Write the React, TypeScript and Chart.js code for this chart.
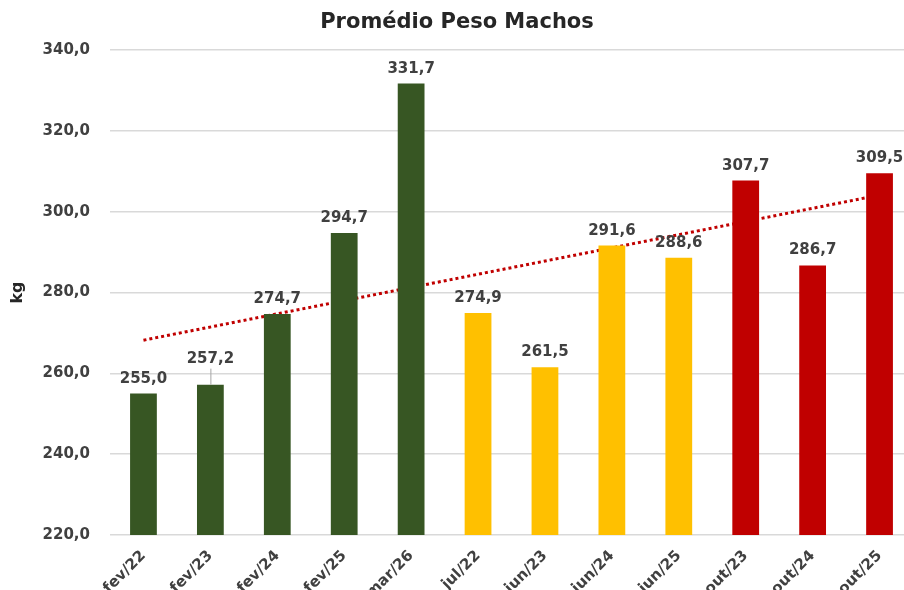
import React, { useEffect, useRef } from "react";
import { Chart, registerables } from "chart.js";

Chart.register(...registerables);

const categories = ["fev/22", "fev/23", "fev/24", "fev/25", "mar/26", "jul/22", "jun/23", "jun/24", "jun/25", "out/23", "out/24", "out/25"];
const weights = [255.0, 257.2, 274.7, 294.7, 331.7, 274.9, 261.5, 291.6, 288.6, 307.7, 286.7, 309.5];
const groups = ["fev", "fev", "fev", "fev", "fev", "jun", "jun", "jun", "jun", "out", "out", "out"];
const groupColors: Record<string, string> = { fev: "#375623", jun: "#FFC000", out: "#C00000" };
// linear trendline end values
const trendStart = 268.2;
const trendEnd = 304.1;
const yTicks = [220, 240, 260, 280, 300, 320, 340];

const TITLE = "Promédio Peso Machos";
const Y_TITLE = "kg";
const LIFTED_LABEL_INDEX = 1;

const fmt = (v: number) => v.toFixed(1).replace(".", ",");

export default function App() {
  const ref = useRef<HTMLCanvasElement | null>(null);

  useEffect(() => {
    document.body.style.margin = "0";
    document.body.style.overflow = "hidden";
    const canvas = ref.current;
    if (!canvas) return;

    const trendData = categories.map((_, i) => (i === 0 ? trendStart : i === categories.length - 1 ? trendEnd : null));

    const labelPlugin = {
      id: "labels",
      afterDatasetsDraw(chart: any) {
        const ctx = chart.ctx;
        const meta = chart.getDatasetMeta(0);
        ctx.save();
        ctx.font = "bold 15px 'DejaVu Sans'";
        ctx.fillStyle = "#404040";
        ctx.textAlign = "center";
        ctx.textBaseline = "alphabetic";
        meta.data.forEach((bar: any, i: number) => {
          let y = bar.y - 11;
          if (i === LIFTED_LABEL_INDEX) {
            y = bar.y - 22;
            ctx.strokeStyle = "#a6a6a6";
            ctx.lineWidth = 1;
            ctx.beginPath();
            ctx.moveTo(bar.x + 0.5, y + 6);
            ctx.lineTo(bar.x + 0.5, bar.y);
            ctx.stroke();
          }
          ctx.fillText(fmt(weights[i]), bar.x, y);
        });
        // title
        ctx.font = "bold 21px 'DejaVu Sans'";
        ctx.fillStyle = "#262626";
        ctx.fillText(TITLE, 457, 28);
        ctx.restore();
      },
    };

    const chart = new Chart(canvas, {
      type: "bar",
      data: {
        labels: categories,
        datasets: [
          {
            type: "bar",
            data: weights,
            backgroundColor: groups.map((g) => groupColors[g]),
            barPercentage: 0.4,
            categoryPercentage: 1,
            order: 1,
          },
          {
            type: "line",
            data: trendData as any,
            borderColor: "#C00000",
            borderWidth: 3,
            borderDash: [3, 3],
            pointRadius: 0,
            spanGaps: true,
            order: 2,
          } as any,
        ],
      },
      options: {
        animation: false,
        responsive: false,
        maintainAspectRatio: false,
        layout: { padding: { top: 50, right: 3, left: 0, bottom: 0 } },
        plugins: {
          legend: { display: false },
          title: { display: false },
          tooltip: { enabled: false },
        },
        scales: {
          x: {
            grid: { display: false },
            border: { display: false },
            ticks: {
              color: "#404040",
              font: { family: "'DejaVu Sans'", weight: "bold", size: 15 },
              maxRotation: 45,
              minRotation: 45,
              padding: 4,
            },
            afterFit: (s: any) => {
              s.height = 55;
            },
          },
          y: {
            min: 220,
            max: 340,
            afterBuildTicks: (s: any) => {
              s.ticks = yTicks.map((v) => ({ value: v }));
            },
            grid: { color: "#d9d9d9", lineWidth: 1.5, drawTicks: false },
            border: { display: false },
            ticks: {
              color: "#404040",
              font: { family: "'DejaVu Sans'", weight: "bold", size: 15 },
              padding: 20,
              callback: (v: any) => fmt(Number(v)),
            },
            title: {
              display: true,
              text: Y_TITLE,
              color: "#262626",
              font: { family: "'DejaVu Sans'", weight: "bold", size: 16 },
              padding: { top: 8, bottom: 0 },
            },
            afterFit: (s: any) => {
              s.width = 110;
            },
          },
        },
      },
      plugins: [labelPlugin],
    });
    return () => chart.destroy();
  }, []);

  return (
    <div style={{ width: 916, height: 590, background: "#fff" }}>
      <canvas ref={ref} width={916} height={590} style={{ display: "block" }} />
    </div>
  );
}
